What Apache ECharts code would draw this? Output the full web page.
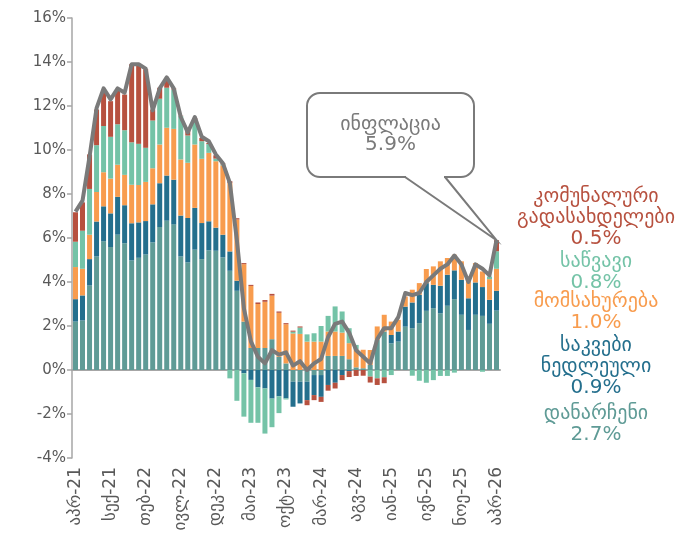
<!DOCTYPE html>
<html>
<head>
<meta charset="utf-8">
<script src="https://cdn.jsdelivr.net/npm/echarts@6/dist/echarts.min.js"></script>
<style>
  html, body { margin: 0; padding: 0; background: #fff; }
  #inflationChart { width: 692px; height: 545px; }
</style>
</head>
<body>
<div id="inflationChart"></div>
<script>
// Georgian month abbreviations, series runs Apr-21 .. Apr-26
const monthNames = ['იან', 'თებ', 'მარ', 'აპრ', 'მაი', 'ივნ', 'ივლ', 'აგვ', 'სექ', 'ოქტ', 'ნოე', 'დეკ']
const categories = []
for (let k = 0; k < 61; k++) {
  const m = (3 + k) % 12
  const y = 21 + Math.floor((3 + k) / 12)
  categories.push(monthNames[m] + '-' + y)
}

const yTicks = { min: -4, max: 16, step: 2 }

// contributions, percentage points
const other = [2.20, 2.25, 3.84, 5.16, 5.85, 5.59, 6.15, 5.76, 4.98, 5.10,
  5.25, 5.80, 6.50, 6.79, 6.62, 5.16, 4.89, 5.47, 5.04, 5.44,
  5.42, 5.12, 4.51, 3.60, 2.20, 1.00, 1.00, 1.00, 1.40, 0.60,
  0.30, -0.53, -0.53, -0.53, -0.23, -0.23, 0.64, 0.64, 0.64, 0.49,
  0.12, 0.08, 0.23, 1.37, 1.75, 1.21, 1.29, 1.97, 1.90, 2.13,
  2.69, 2.81, 2.58, 2.92, 3.22, 2.51, 1.82, 2.51, 2.46, 2.10, 2.70]
const food = [1.02, 1.14, 1.20, 1.59, 1.59, 1.53, 1.72, 1.73, 1.69, 1.61,
  1.52, 1.73, 1.99, 2.05, 2.03, 1.86, 2.02, 1.90, 1.64, 1.32,
  1.05, 1.03, 0.88, 0.46, -0.15, -0.45, -0.79, -0.84, -1.30, -1.20,
  -1.29, -1.14, -0.99, -0.84, -0.91, -0.99, -0.68, -0.58, -0.23, -0.05,
  0, 0, 0, 0, 0, 0.38, 0.46, 0.91, 1.17, 1.29,
  1.26, 1.06, 1.25, 1.41, 1.31, 1.59, 1.44, 1.47, 1.31, 1.09, 0.90]
const services = [1.46, 1.21, 1.11, 1.34, 1.55, 1.58, 1.46, 1.38, 1.75, 1.70,
  1.78, 1.64, 1.76, 2.17, 2.31, 2.55, 2.51, 2.88, 2.92, 3.11,
  3.02, 3.15, 3.11, 2.78, 2.61, 2.82, 2.00, 2.10, 1.98, 2.00,
  1.78, 1.66, 1.64, 1.29, 1.29, 1.29, 1.11, 1.11, 1.06, 0.73,
  0.82, 0.84, 0.68, 0.61, 0.76, 0.61, 0.53, 0.46, 0.58, 0.53,
  0.64, 0.84, 1.11, 0.76, 0.71, 0.84, 0.99, 0.88, 0.71, 0.94, 1.00]
const fuel = [1.15, 1.73, 2.08, 2.13, 2.10, 1.90, 1.84, 2.03, 1.93, 1.87,
  1.55, 2.17, 2.08, 1.82, 1.79, 1.97, 1.24, 1.10, 0.80, 0.40,
  0.12, 0.05, -0.38, -1.40, -1.97, -1.95, -1.61, -2.05, -1.30, -0.76,
  -0.05, 0.08, 0.29, 0.33, 0.38, 0.71, 0.71, 1.14, 0.96, 0.68,
  0.20, 0, -0.30, -0.38, -0.33, -0.23, 0, 0, -0.26, -0.49,
  -0.58, -0.46, -0.27, -0.27, -0.12, 0, 0, 0, -0.08, 0.12, 0.80]
const utilities = [1.34, 1.29, 1.57, 1.62, 1.59, 1.62, 1.52, 1.62, 3.55, 3.61,
  3.57, 0.50, 0.50, 0.41, 0.05, 0.02, 0.20, 0.10, 0.15, 0.05,
  0.15, 0.05, 0.08, 0.06, 0.05, 0.05, 0.07, 0.08, 0.08, 0.06,
  0.05, 0.05, 0.05, -0.23, -0.23, -0.23, -0.26, -0.26, -0.23, -0.27,
  -0.27, -0.26, -0.27, -0.30, -0.27, 0, 0, 0, 0, 0,
  0, 0, 0, 0, 0, 0, 0, 0, 0, 0, 0.50]
const inflation = [7.2, 7.7, 9.7, 11.9, 12.8, 12.3, 12.8, 12.6, 13.9, 13.9,
  13.7, 11.8, 12.8, 13.3, 12.8, 11.5, 10.8, 11.5, 10.6, 10.4,
  9.8, 9.4, 8.5, 5.9, 2.8, 1.3, 0.6, 0.3, 0.9, 0.7,
  0.8, 0.2, 0.4, 0.0, 0.3, 0.5, 1.5, 2.1, 2.2, 1.7,
  0.9, 0.6, 0.3, 1.4, 1.9, 1.9, 2.4, 3.5, 3.4, 3.5,
  4.0, 4.3, 4.6, 4.8, 5.2, 4.8, 4.0, 4.8, 4.6, 4.3, 5.9]

const seriesDefs = [
  { name: 'დანარჩენი', data: other, color: '#5f9b96', top: 403 },
  { name: 'საკვები\nნედლეული', data: food, color: '#246f8d', top: 335 },
  { name: 'მომსახურება', data: services, color: '#f89c4e', top: 291 },
  { name: 'საწვავი', data: fuel, color: '#74c3a7', top: 251 },
  { name: 'კომუნალური\nგადასახდელები', data: utilities, color: '#b7513f', top: 186 }
]
const lineColor = '#7a7a7a'
const font = 'DejaVu Sans'

const chart = echarts.init(document.getElementById('inflationChart'))

const option = {
  animation: false,
  textStyle: { fontFamily: font },
  grid: { left: 72, right: 192, top: 18, bottom: 87 },
  xAxis: [
    {
      type: 'category',
      data: categories,
      position: 'bottom',
      axisLine: { show: false, onZero: false },
      axisTick: { show: false },
      axisLabel: {
        interval: 4,
        rotate: 90,
        margin: 9,
        fontSize: 17,
        color: '#595959'
      }
    },
    {
      type: 'category',
      data: categories,
      position: 'bottom',
      axisLine: { onZero: true, lineStyle: { color: '#a6a6a6', width: 2 } },
      axisTick: { interval: 4, length: 5, lineStyle: { color: '#a6a6a6', width: 1.5 } },
      axisLabel: { show: false }
    }
  ],
  yAxis: {
    type: 'value',
    min: yTicks.min,
    max: yTicks.max,
    interval: yTicks.step,
    splitLine: { show: false },
    axisLine: { show: true, lineStyle: { color: '#a6a6a6', width: 1.5 } },
    axisTick: { show: true, length: 5, lineStyle: { color: '#a6a6a6', width: 1.5 } },
    axisLabel: {
      formatter: '{value}%',
      fontSize: 15,
      color: '#595959',
      margin: 6
    }
  },
  series: seriesDefs.map(s => ({
    name: s.name,
    type: 'bar',
    stack: 'total',
    barWidth: 5,
    data: s.data,
    itemStyle: { color: s.color }
  })).concat([{
    name: 'ინფლაცია',
    type: 'line',
    data: inflation,
    symbol: 'none',
    z: 5,
    lineStyle: { color: lineColor, width: 4, join: 'round' }
  }])
}
chart.setOption(option)

// callout box pointing at the latest inflation point + right-hand labels
const lastIdx = categories.length - 1
const tip = chart.convertToPixel({ xAxisIndex: 0, yAxisIndex: 0 }, [categories[lastIdx], inflation[lastIdx]])
const box = { x: 307, y: 93, w: 167, h: 84 }
const graphic = [
  {
    type: 'rect', z: 100,
    shape: { x: box.x, y: box.y, width: box.w, height: box.h, r: 13 },
    style: { fill: '#fff', stroke: lineColor, lineWidth: 2 }
  },
  {
    type: 'line', z: 101,
    shape: { x1: 406, y1: box.y + box.h, x2: 444, y2: box.y + box.h },
    style: { stroke: '#fff', lineWidth: 4 }
  },
  {
    type: 'polyline', z: 102,
    shape: { points: [[405, box.y + box.h], tip, [445, box.y + box.h]] },
    style: { stroke: lineColor, lineWidth: 2, fill: null }
  },
  {
    type: 'text', z: 103,
    style: {
      text: 'ინფლაცია\n' + inflation[lastIdx].toFixed(1) + '%',
      x: box.x + box.w / 2, y: 115,
      textAlign: 'center', textVerticalAlign: 'top',
      font: '20px "DejaVu Sans"', lineHeight: 20, fill: lineColor
    }
  }
].concat(seriesDefs.map(s => ({
  type: 'text', z: 103,
  style: {
    text: s.name + '\n' + s.data[lastIdx].toFixed(1) + '%',
    x: 596, y: s.top,
    textAlign: 'center', textVerticalAlign: 'top',
    font: '20px "DejaVu Sans"', lineHeight: 21, fill: s.color
  }
})))
chart.setOption({ graphic: graphic })
</script>
</body>
</html>
